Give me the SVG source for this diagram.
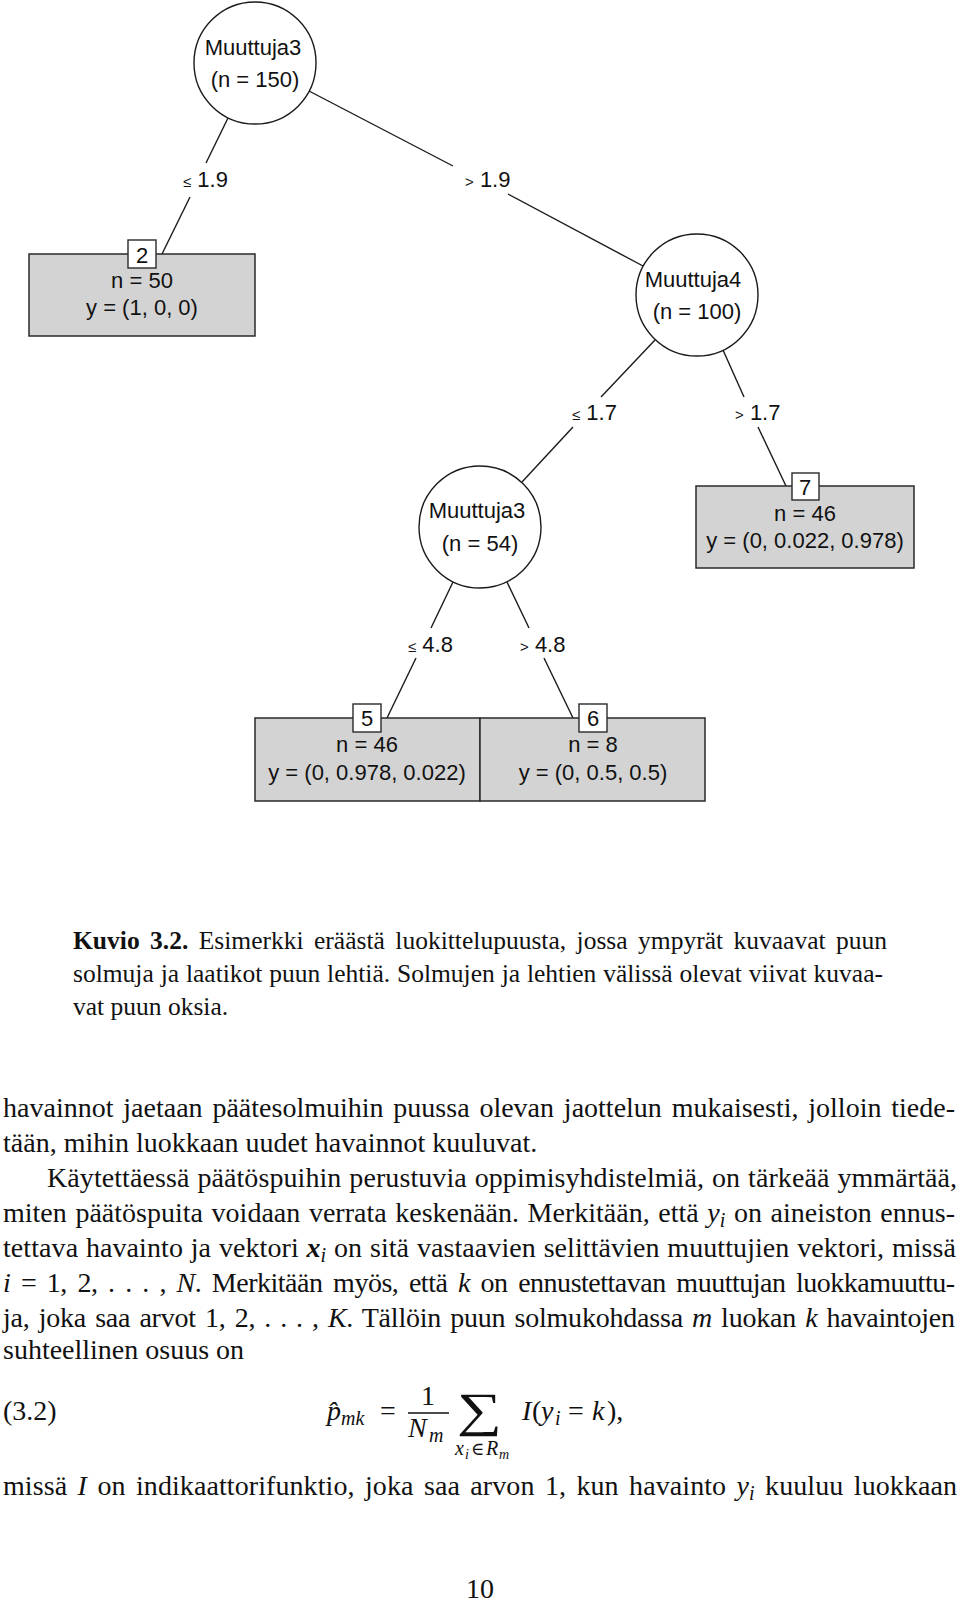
<svg xmlns="http://www.w3.org/2000/svg" width="960" height="1603" viewBox="0 0 960 1603">
<style>
  .bg{fill:#ffffff}
  .node{fill:#ffffff;stroke:#1a1a1a;stroke-width:1.4}
  .leaf{fill:#d3d3d3;stroke:#2a2a2a;stroke-width:1.5}
  .idbox{fill:#ffffff;stroke:#2a2a2a;stroke-width:1.4}
  .edge{stroke:#1a1a1a;stroke-width:1.4;fill:none}
  .t{font-family:"Liberation Sans",Arial,sans-serif;font-size:22px;fill:#111;text-anchor:middle}
  .el{font-family:"Liberation Sans",Arial,sans-serif;font-size:22px;fill:#111}
  .sym{font-size:15px}
  .cap{font-family:"Liberation Serif","Times New Roman",serif;font-size:25.5px;fill:#111}
  .body{font-family:"Liberation Serif","Times New Roman",serif;font-size:28px;fill:#111}
  .it{font-style:italic}
  .bi{font-style:italic;font-weight:bold}
  .s{font-size:20px;font-style:italic}
  .sub{font-family:"Liberation Serif","Times New Roman",serif;font-size:20px;font-style:italic;fill:#111}
  .sub2{font-family:"Liberation Serif","Times New Roman",serif;font-size:14px;font-style:italic;fill:#111}
</style>
<rect class="bg" x="0" y="0" width="960" height="1603"/>

<g id="connectors">
  <line class="edge" x1="228" y1="118" x2="206" y2="163"/>
  <line class="edge" x1="190" y1="197" x2="162" y2="254"/>
  <line class="edge" x1="309" y1="91" x2="453" y2="166"/>
  <line class="edge" x1="508" y1="194" x2="643" y2="266"/>
  <line class="edge" x1="655" y1="340" x2="601" y2="397"/>
  <line class="edge" x1="573" y1="427" x2="522" y2="482"/>
  <line class="edge" x1="723" y1="350" x2="744" y2="397"/>
  <line class="edge" x1="758" y1="427" x2="786" y2="486"/>
  <line class="edge" x1="453" y1="582" x2="431" y2="628"/>
  <line class="edge" x1="416" y1="658" x2="387" y2="718"/>
  <line class="edge" x1="507" y1="582" x2="529" y2="628"/>
  <line class="edge" x1="544" y1="658" x2="573" y2="718"/>
</g>

<g id="edge-labels">
  <text class="el" x="183" y="187"><tspan class="sym">≤</tspan> 1.9</text>
  <text class="el" x="465" y="187"><tspan class="sym">&gt;</tspan> 1.9</text>
  <text class="el" x="572" y="420"><tspan class="sym">≤</tspan> 1.7</text>
  <text class="el" x="735" y="420"><tspan class="sym">&gt;</tspan> 1.7</text>
  <text class="el" x="408" y="652"><tspan class="sym">≤</tspan> 4.8</text>
  <text class="el" x="520" y="652"><tspan class="sym">&gt;</tspan> 4.8</text>
</g>

<g id="node1">
  <circle class="node" cx="255" cy="63" r="61"/>
  <text class="t" x="253" y="55">Muuttuja3</text>
  <text class="t" x="255" y="87">(n = 150)</text>
</g>

<g id="node2">
  <rect class="leaf" x="29" y="254" width="226" height="82"/>
  <rect class="idbox" x="128" y="240" width="28" height="28"/>
  <text class="t" x="142" y="263">2</text>
  <text class="t" x="142" y="288">n = 50</text>
  <text class="t" x="142" y="315">y = (1, 0, 0)</text>
</g>

<g id="node3">
  <circle class="node" cx="697" cy="295" r="61"/>
  <text class="t" x="693" y="287">Muuttuja4</text>
  <text class="t" x="697" y="319">(n = 100)</text>
</g>

<g id="node4">
  <circle class="node" cx="480" cy="527" r="61"/>
  <text class="t" x="477" y="518">Muuttuja3</text>
  <text class="t" x="480" y="551">(n = 54)</text>
</g>

<g id="node5">
  <rect class="leaf" x="255" y="718" width="225" height="83"/>
  <rect class="idbox" x="353" y="704" width="28" height="28"/>
  <text class="t" x="367" y="726">5</text>
  <text class="t" x="367" y="752">n = 46</text>
  <text class="t" x="367" y="780">y = (0, 0.978, 0.022)</text>
</g>

<g id="node6">
  <rect class="leaf" x="480" y="718" width="225" height="83"/>
  <rect class="idbox" x="579" y="704" width="28" height="28"/>
  <text class="t" x="593" y="726">6</text>
  <text class="t" x="593" y="752">n = 8</text>
  <text class="t" x="593" y="780">y = (0, 0.5, 0.5)</text>
</g>

<g id="node7">
  <rect class="leaf" x="696" y="486" width="218" height="82"/>
  <rect class="idbox" x="792" y="473" width="27" height="27"/>
  <text class="t" x="805" y="495">7</text>
  <text class="t" x="805" y="521">n = 46</text>
  <text class="t" x="805" y="548">y = (0, 0.022, 0.978)</text>
</g>

<g id="caption">
  <text class="cap" x="73" y="949" word-spacing="4" textLength="814" lengthAdjust="spacing"><tspan font-weight="bold">Kuvio 3.2.</tspan> Esimerkki eräästä luokittelupuusta, jossa ympyrät kuvaavat puun</text>
  <text class="cap" x="73" y="982" word-spacing="0.5" textLength="810" lengthAdjust="spacing">solmuja ja laatikot puun lehtiä. Solmujen ja lehtien välissä olevat viivat kuvaa-</text>
  <text class="cap" x="73" y="1015">vat puun oksia.</text>
</g>

<g id="body-text">
  <text class="body" x="3" y="1117" word-spacing="2.8" textLength="952" lengthAdjust="spacing">havainnot jaetaan päätesolmuihin puussa olevan jaottelun mukaisesti, jolloin tiede-</text>
  <text class="body" x="3" y="1152">tään, mihin luokkaan uudet havainnot kuuluvat.</text>
  <text class="body" x="47" y="1187" word-spacing="0.9" textLength="910" lengthAdjust="spacing">Käytettäessä päätöspuihin perustuvia oppimisyhdistelmiä, on tärkeää ymmärtää,</text>
  <text class="body" x="3" y="1222" word-spacing="1.6" textLength="952" lengthAdjust="spacing">miten päätöspuita voidaan verrata keskenään. Merkitään, että <tspan class="it">y</tspan><tspan class="s" dy="5">i</tspan><tspan dy="-5"> on aineiston ennus-</tspan></text>
  <text class="body" x="3" y="1257" word-spacing="0.7" textLength="953" lengthAdjust="spacing">tettava havainto ja vektori <tspan class="bi">x</tspan><tspan class="s" dy="5">i</tspan><tspan dy="-5"> on sitä vastaavien selittävien muuttujien vektori, missä</tspan></text>
  <text class="body" x="3" y="1292" word-spacing="4.1" textLength="952" lengthAdjust="spacing"><tspan class="it">i</tspan> = 1, 2, . . . , <tspan class="it">N</tspan>. Merkitään myös, että <tspan class="it">k</tspan> on ennustettavan muuttujan luokkamuuttu-</text>
  <text class="body" x="3" y="1327" word-spacing="2.3" textLength="952" lengthAdjust="spacing">ja, joka saa arvot 1, 2, . . . , <tspan class="it">K</tspan>. Tällöin puun solmukohdassa <tspan class="it">m</tspan> luokan <tspan class="it">k</tspan> havaintojen</text>
  <text class="body" x="3" y="1359">suhteellinen osuus on</text>
</g>

<g id="equation">
  <text class="body" x="3" y="1420">(3.2)</text>
  <text class="body it" x="327" y="1420">p̂</text>
  <text class="sub" x="341" y="1425">mk</text>
  <text class="body" x="380" y="1420">=</text>
  <text class="body" x="428" y="1405" text-anchor="middle">1</text>
  <line x1="408" y1="1413" x2="449" y2="1413" stroke="#111" stroke-width="1.3"/>
  <text class="body it" x="408" y="1437">N</text>
  <text class="sub" x="429" y="1442">m</text>
  <text x="457" y="1426" font-family="'Liberation Serif','DejaVu Serif',serif" font-size="48" fill="#111" textLength="45" lengthAdjust="spacingAndGlyphs">∑</text>
  <text class="sub" x="455" y="1455">x</text>
  <text class="sub2" x="465" y="1459">i</text>
  <text x="471" y="1455" font-family="'Liberation Serif','DejaVu Serif',serif" font-size="18" fill="#111">∈</text>
  <text class="sub" x="486" y="1455">R</text>
  <text class="sub2" x="499" y="1459">m</text>
  <text class="body it" x="522" y="1420">I</text>
  <text class="body" x="532" y="1420">(</text>
  <text class="body it" x="541" y="1420">y</text>
  <text class="sub" x="555" y="1425">i</text>
  <text class="body" x="568" y="1420">=</text>
  <text class="body it" x="592" y="1420">k</text>
  <text class="body" x="607" y="1420">),</text>
</g>

<g id="last-line">
  <text class="body" x="3" y="1495" word-spacing="3.3" textLength="954" lengthAdjust="spacing">missä <tspan class="it">I</tspan> on indikaattorifunktio, joka saa arvon 1, kun havainto <tspan class="it">y</tspan><tspan class="s" dy="5">i</tspan><tspan dy="-5"> kuuluu luokkaan</tspan></text>
</g>

<g id="page-number">
  <text class="body" x="480" y="1598" text-anchor="middle">10</text>
</g>
</svg>
